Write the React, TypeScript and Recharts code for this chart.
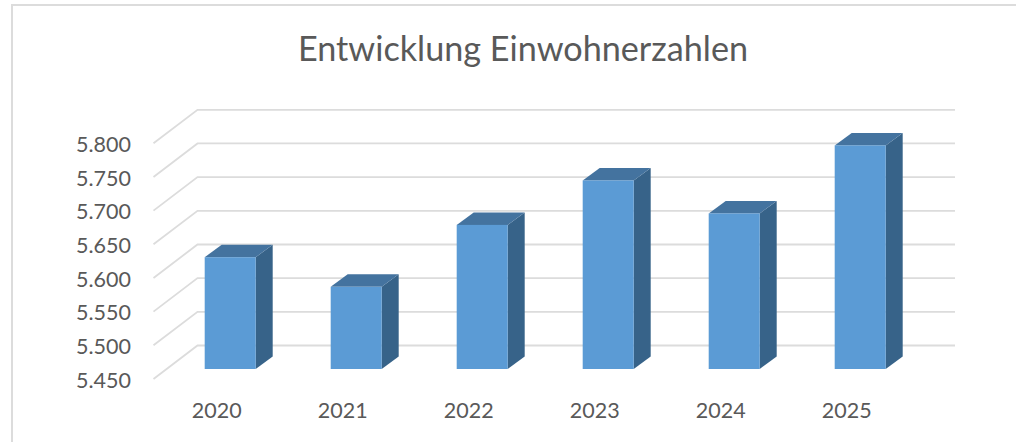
import React from 'react';
import { BarChart, Bar, XAxis, YAxis } from 'recharts';

const years = ['2020', '2021', '2022', '2023', '2024', '2025'];
const population = [5616, 5572, 5664, 5730, 5681, 5782];
const yTicks = [5450, 5500, 5550, 5600, 5650, 5700, 5750, 5800];
const data = years.map((year, i) => ({ year, population: population[i] }));

const FONT = 'Lato, "Open Sans", sans-serif';
const TEXT = '#595959';
const GRID = '#dcdcdc';
const WALL_DX = 44;
const WALL_DY = 33.5;
const BAR_DX = 17;
const BAR_DY = 12.5;
const BAR_SHIFT_X = 13;
const BAR_SHIFT_Y = 10;

const YTick = (props: any) => {
  const { y, payload } = props;
  const left = 153.5;
  const text = String(payload.value).replace(/(\d)(\d{3})$/, '$1.$2');
  return (
    <g>
      <polyline
        points={`${left},${y} ${left + WALL_DX},${y - WALL_DY} 955,${y - WALL_DY}`}
        fill="none"
        stroke={GRID}
        strokeWidth={1.8}
      />
      <text x={131} y={y} dy={8.7} textAnchor="end" fontFamily={FONT} fontSize={21.5} fill={TEXT}>
        {text}
      </text>
    </g>
  );
};

const XTick = (props: any) => {
  const { x, payload } = props;
  return (
    <text x={x} y={417.5} textAnchor="middle" fontFamily={FONT} fontSize={21.5} fill={TEXT}>
      {payload.value}
    </text>
  );
};

const Bar3D = (props: any) => {
  const { x, y, width, height } = props;
  const l = x + BAR_SHIFT_X;
  const r = l + width;
  const t = y - BAR_SHIFT_Y;
  const b = t + height;
  return (
    <g>
      <polygon points={`${r},${t} ${r + BAR_DX},${t - BAR_DY} ${r + BAR_DX},${b - BAR_DY} ${r},${b}`} fill="#376389" />
      <polygon points={`${l},${t} ${l + BAR_DX},${t - BAR_DY} ${r + BAR_DX},${t - BAR_DY} ${r},${t}`} fill="#44739f" />
      <rect x={l} y={t} width={width} height={height} fill="#5b9bd5" />
    </g>
  );
};

const layer = { position: 'absolute', left: 0, top: 0 } as const;

export default function App() {
  return (
    <div style={{ position: 'absolute', left: 0, top: 0, width: 1016, height: 442, background: '#fff', overflow: 'hidden' }}>
      <div style={{ position: 'absolute', left: 11, top: 4, right: -10, bottom: -10, border: '2px solid #dcdcdc' }} />
      <div
        style={{
          position: 'absolute',
          left: 223,
          width: 600,
          top: 27,
          textAlign: 'center',
          whiteSpace: 'nowrap',
          fontFamily: FONT,
          fontSize: 34.2,
          lineHeight: '42px',
          color: TEXT,
        }}
      >
        Entwicklung Einwohnerzahlen
      </div>
      <div style={layer}>
        <BarChart
          width={1016}
          height={442}
          data={data}
          margin={{ top: 143.3, right: 106.3, bottom: 33, left: 53.7 }}
          barCategoryGap={0}
        >
          <YAxis
            type="number"
            domain={[5450, 5800]}
            ticks={yTicks}
            width={100}
            axisLine={false}
            tickLine={false}
            interval={0}
            tick={<YTick />}
            allowDataOverflow
          />
          <XAxis dataKey="year" height={30} axisLine={false} tickLine={false} interval={0} tick={<XTick />} />
        </BarChart>
      </div>
      <div style={layer}>
        <BarChart
          width={1016}
          height={442}
          data={data}
          margin={{ top: 143.3, right: 106.3, bottom: 63, left: 153.7 }}
          barCategoryGap={0}
        >
          <YAxis hide type="number" domain={[5450, 5800]} ticks={yTicks} />
          <XAxis hide dataKey="year" />
          <Bar dataKey="population" barSize={51} isAnimationActive={false} shape={<Bar3D />} />
        </BarChart>
      </div>
    </div>
  );
}
